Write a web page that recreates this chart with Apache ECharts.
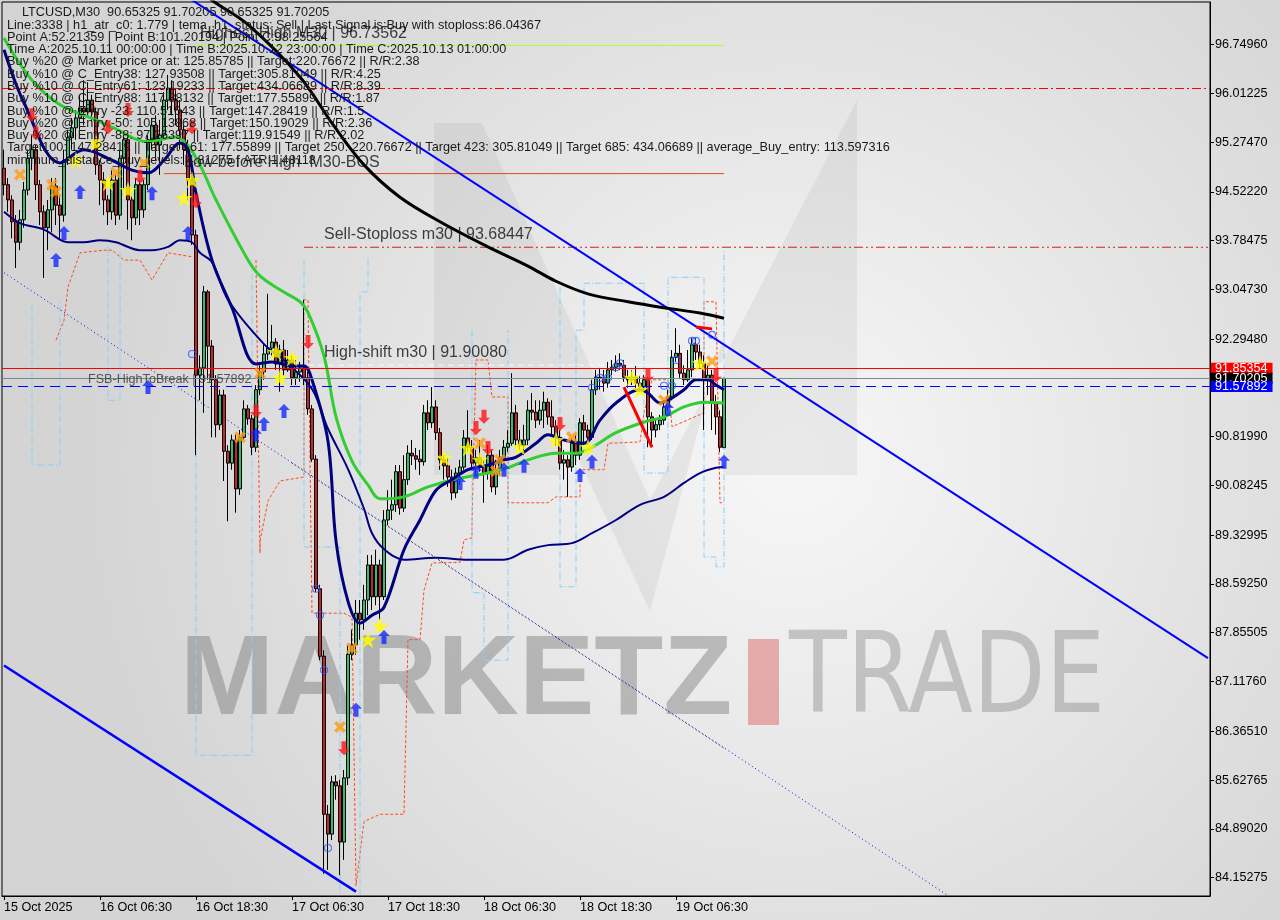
<!DOCTYPE html>
<html><head><meta charset="utf-8">
<script src="https://cdn.jsdelivr.net/npm/echarts@6/dist/echarts.min.js"></script>
<style>html,body{margin:0;padding:0;background:#e2e2e2}#c{width:1280px;height:920px}</style>
</head><body><div id="c"></div>
<script>
// ---------------- DATA ----------------
const barCount = 302;
const xTickIndex = [0, 24, 48, 72, 96, 120, 144, 168];
const xTickLabels = ['15 Oct 2025','16 Oct 06:30','16 Oct 18:30','17 Oct 06:30','17 Oct 18:30','18 Oct 06:30','18 Oct 18:30','19 Oct 06:30'];
const yTickValues = [96.74960,96.01225,95.27470,94.52220,93.78475,93.04730,92.29480,90.81990,90.08245,89.32995,88.59250,87.85505,87.11760,86.36510,85.62765,84.89020,84.15275];
const yMin = 83.874, yMax = 97.393;

// [open, close, low, high]
const candles = [
[94.88,94.63,94.47,95.16],[94.63,94.40,94.22,94.73],[94.40,94.07,93.82,94.47],[94.07,93.76,93.37,94.17],[93.76,94.10,93.64,94.25],
[94.10,94.55,93.98,94.67],[94.55,95.03,94.47,95.16],[95.03,95.16,94.85,95.38],[95.16,94.63,94.40,95.23],[94.63,94.22,94.02,94.70],
[94.22,93.98,93.22,94.32],[93.98,94.25,93.64,94.40],[94.25,94.61,93.91,94.73],[94.61,94.32,94.02,94.73],[94.32,94.17,93.79,94.47],
[94.17,95.00,94.07,95.16],[95.00,95.34,94.93,95.46],[95.34,95.49,95.16,95.64],[95.49,95.64,95.31,95.76],[95.64,95.79,95.46,95.99],
[95.79,95.73,95.53,96.21],[95.73,95.91,95.64,96.18],[95.91,95.73,95.58,95.99],[95.73,94.93,94.78,95.79],[94.93,94.70,94.32,95.00],
[94.70,94.40,94.17,94.82],[94.40,94.22,94.02,94.47],[94.22,94.70,94.10,94.85],[94.70,94.17,94.02,94.78],[94.17,95.03,94.10,95.16],
[95.03,95.31,94.55,95.43],[95.31,94.40,93.95,95.38],[94.40,94.13,93.79,94.47],[94.13,94.63,94.02,94.73],[94.63,94.25,94.02,94.70],
[94.25,94.63,94.13,94.70],[94.63,95.31,94.55,95.38],[95.31,95.53,95.16,95.64],[95.53,95.23,95.00,95.68],[95.23,95.38,94.78,95.61],
[95.38,95.91,95.31,96.03],[95.91,96.09,95.76,96.29],[96.09,95.91,95.68,96.21],[95.91,95.76,95.53,96.06],[95.76,95.46,95.16,95.91],
[95.46,95.16,94.93,95.53],[95.16,94.70,94.40,95.31],[94.70,93.87,93.72,94.85],[93.87,91.75,90.54,93.95],[91.75,91.86,91.37,92.05],
[91.86,93.01,91.18,93.10],[93.01,92.19,91.68,93.04],[92.19,91.68,90.81,92.28],[91.68,91.00,90.81,91.75],[91.00,91.45,90.92,91.53],
[91.45,90.60,90.15,91.53],[90.60,90.42,89.54,90.69],[90.42,90.77,90.32,90.85],[90.77,90.03,89.67,90.85],[90.03,90.81,89.94,90.92],
[90.81,91.24,90.77,91.37],[91.24,91.09,91.00,91.30],[91.09,90.66,90.54,91.15],[90.66,91.53,90.59,91.60],[91.53,91.80,91.45,91.90],
[91.80,92.07,91.68,92.21],[92.07,92.16,91.98,92.98],[92.16,92.25,92.05,92.51],[92.25,91.92,91.83,92.31],[91.92,92.13,91.50,92.21],
[92.13,91.83,91.75,92.28],[91.83,91.98,91.80,92.13],[91.98,91.71,91.60,92.05],[91.71,91.80,91.60,91.98],[91.80,91.86,91.65,91.95],
[91.86,91.71,91.60,92.89],[91.71,91.24,91.15,91.80],[91.24,90.48,90.44,91.30],[90.48,88.52,88.47,90.54],[88.52,87.50,87.44,88.58],
[87.50,85.11,84.21,87.59],[85.11,84.81,84.27,85.25],[84.81,85.60,84.72,85.69],[85.60,85.54,85.33,85.70],[85.54,84.69,84.19,85.63],
[84.69,85.66,84.42,85.78],[85.66,87.53,85.55,87.67],[87.53,87.67,87.44,87.90],[87.67,88.15,87.52,88.35],[88.15,88.05,87.75,88.35],
[88.05,88.35,87.90,88.58],[88.35,88.88,88.12,89.03],[88.88,88.40,88.20,89.03],[88.40,88.88,88.27,89.11],[88.88,88.40,88.05,88.96],
[88.40,89.56,88.35,89.71],[89.56,89.71,89.48,90.01],[89.71,89.79,89.56,90.17],[89.79,90.29,89.68,90.39],[90.29,89.74,89.64,90.39],
[89.74,90.17,89.68,90.54],[90.17,90.57,90.09,90.69],[90.57,90.53,90.39,90.77],[90.53,90.48,90.32,90.65],[90.48,90.44,90.24,90.62],
[90.44,91.18,90.38,91.30],[91.18,91.03,90.92,91.37],[91.03,91.27,90.95,91.57],[91.27,90.88,90.77,91.37],[90.88,90.47,90.32,90.95],
[90.47,90.38,90.17,90.54],[90.38,90.21,90.06,90.50],[90.21,89.97,89.86,90.32],[89.97,90.27,89.89,90.35],[90.27,90.36,90.09,90.47],
[90.36,90.80,90.32,90.92],[90.80,90.66,90.59,91.22],[90.66,90.42,90.32,90.77],[90.42,90.50,90.24,90.62],[90.50,90.36,90.29,90.77],
[90.36,90.27,89.82,90.47],[90.27,90.54,90.17,90.69],[90.54,90.06,89.98,90.62],[90.06,90.32,89.94,90.47],[90.32,90.51,90.24,90.62],
[90.51,90.66,90.44,90.77],[90.66,90.72,90.59,90.92],[90.72,91.18,90.68,91.78],[91.18,90.77,90.69,91.30],[90.77,90.69,90.62,90.92],
[90.69,90.77,90.54,91.00],[90.77,91.22,90.69,91.37],[91.22,91.19,91.07,91.48],[91.19,91.07,90.95,91.37],[91.07,91.22,91.00,91.37],
[91.22,91.34,90.95,91.50],[91.34,91.12,91.00,91.40],[91.12,90.97,90.85,91.37],[90.97,90.81,90.69,91.07],[90.81,90.42,90.32,90.92],
[90.42,90.47,90.17,90.62],[90.47,90.36,89.91,90.54],[90.36,90.72,90.29,90.80],[90.72,90.54,90.39,90.85],[90.54,91.03,90.47,91.10],
[91.03,90.92,90.69,91.15],[90.92,90.81,90.69,91.00],[90.81,91.53,90.77,91.68],[91.53,91.72,91.45,91.83],[91.72,91.71,91.53,91.86],
[91.71,91.63,91.50,91.83],[91.63,91.83,91.56,91.95],[91.83,91.87,91.75,91.98],[91.87,91.93,91.80,92.05],[91.93,91.90,91.83,92.08],
[91.90,91.72,91.65,91.98],[91.72,91.68,91.56,91.83],[91.68,91.72,91.60,91.83],[91.72,91.63,91.53,91.89],[91.63,91.57,91.50,91.74],
[91.57,91.68,91.50,91.75],[91.68,91.12,90.66,91.72],[91.12,90.92,90.66,91.19],[90.92,91.00,90.81,91.10],[91.00,91.07,90.92,91.15],
[91.07,91.27,91.00,91.37],[91.27,91.42,91.22,91.53],[91.42,92.02,91.37,92.13],[92.02,92.08,91.95,92.46],[92.08,91.78,91.71,92.21],
[91.78,91.68,91.60,91.90],[91.68,91.83,91.65,92.13],[91.83,92.21,91.72,92.31],[92.21,92.10,91.98,92.31],[92.10,91.93,91.86,92.21],
[91.93,91.68,90.92,92.05],[91.68,91.75,91.45,91.90],[91.75,91.33,90.92,91.83],[91.33,91.12,90.85,91.45],[91.12,90.66,90.59,91.22],
[90.65325,91.70205,90.65325,91.70205]
];

// moving averages: [bar, price]
const maBlack = [[50,97.55],[52,97.42],[61,97.05],[74,96.26],[82,95.56],[90,94.93],[99,94.44],[109,94.07],[121,93.69],[131,93.40],[138,93.17],[146,92.98],[156,92.86],[165,92.77],[174,92.69],[180,92.61]];
const maGreen = [[0,96.85],[7,96.21],[14,95.84],[23,95.61],[27,95.50],[36,95.28],[43,95.35],[46,95.22],[49,94.93],[53,94.40],[61,93.49],[64,93.25],[69,93.04],[74,92.86],[76,92.70],[80,92.04],[83,91.12],[87,90.45],[91,90.09],[94,89.88],[100,89.91],[106,90.06],[113,90.18],[121,90.27],[126,90.35],[131,90.47],[138,90.57],[143,90.57],[147,90.66],[153,90.88],[160,91.04],[165,91.12],[170,91.27],[175,91.34],[180,91.33]];
const maNavyFast = [[0,96.67],[5,95.87],[14,94.96],[20,95.16],[27,95.00],[32,94.85],[36,94.81],[40,95.00],[44,95.26],[46,95.16],[48,94.50],[52,93.49],[57,92.77],[63,91.92],[67,91.95],[72,91.89],[75,91.89],[77,91.68],[81,90.75],[83,89.24],[86,88.33],[89,88.00],[92,88.12],[95,88.24],[100,89.11],[104,89.56],[108,90.01],[112,90.17],[116,90.32],[121,90.39],[125,90.47],[128,90.51],[133,90.72],[136,90.85],[140,90.77],[145,90.72],[149,91.07],[153,91.33],[159,91.53],[161,91.48],[164,91.33],[166,91.37],[170,91.53],[173,91.68],[176,91.68],[178,91.60],[180,91.53]];
const maNavySlow = [[0,94.22],[4,94.05],[10,93.95],[16,93.76],[20,93.76],[24,93.79],[28,93.76],[34,93.64],[37,93.64],[41,93.69],[44,93.79],[47,93.76],[49,93.60],[52,93.46],[56,92.89],[65,92.22],[71,91.92],[77,91.54],[81,90.94],[86,90.33],[90,89.73],[92,89.36],[95,89.12],[100,88.96],[108,88.99],[116,88.96],[125,88.96],[131,89.11],[136,89.18],[142,89.21],[147,89.36],[153,89.56],[159,89.79],[165,89.91],[170,90.12],[174,90.27],[178,90.35],[180,90.36]];

// trend lines [bar, price]
const trendUpper = [[44,97.54],[301,87.47]];
const trendLower = [[0,87.36],[88,83.94]];
const trendDotBlue = [[0,93.30],[236,83.88]];
const trendDotBlack = [[72,90.42],[180,86.11]];
const redZig1 = [[155,91.57],[162,90.66]];
const redZig2 = [[173,92.48],[177,92.45]];

// step bands
const orangeBand1 = [[13,92.28],[15,92.58],[16,93.08],[19,93.60],[25,93.64],[27,93.64],[30,93.49],[34,93.49],[37,93.19],[41,93.60],[47,93.54]];
const orangeBand2 = [[63,93.49],[64,89.06],[64,89.24],[66,89.85],[69,90.15],[75,90.21],[75,92.89],[76,92.89],[77,88.15],[85,88.15],[87,88.09],[88,84.03],[90,85.00],[94,85.11],[100,85.11],[101,87.75],[104,87.75],[105,88.50],[107,88.91],[114,88.92],[115,89.26],[117,89.29],[117,89.51],[118,91.98],[121,91.98],[122,91.42],[126,91.42],[126,89.82],[136,89.82],[138,89.91],[144,89.91],[144,90.32],[150,90.32],[151,90.72],[159,90.74],[160,91.18],[162,91.68],[166,91.68],[167,90.97],[175,91.18],[175,92.86],[178,92.86],[179,89.82],[180,89.82]];
const blueBand1 = [[7,92.81],[7,90.39],[14,90.39],[14,92.89]];
const blueBand2 = [[26,93.69],[26,91.37],[29,91.37],[29,93.64]];
const blueBand3 = [[48,92.43],[48,86.00],[62,86.00],[62,93.49]];
const blueBand4 = [[75,93.49],[75,89.15],[84,89.15],[84,83.89]];
const blueBand5 = [[89,83.89],[89,93.01],[91,93.01],[91,93.57]];
const blueBand6 = [[117,92.43],[117,88.46],[120,88.46],[120,87.44],[126,87.44],[126,92.43]];
const blueBand7 = [[139,93.08],[139,88.55],[143,88.55],[143,92.43],[145,92.43],[145,93.14],[160,93.14],[160,90.27],[166,90.27],[166,93.23],[175,93.23],[175,89.00],[178,89.00],[178,88.85],[180,88.85],[180,93.64]];

// signals [bar, price]
const redDownArrows = [[7,95.68],[8,95.41],[26,95.50],[31,95.76],[34,94.75],[47,95.50],[48,94.38],[63,91.21],[76,92.25],[85,86.11],[118,90.95],[120,91.12],[121,90.65],[139,91.01],[161,91.74],[178,91.74]];
const blueUpArrows = [[13,93.49],[15,93.90],[19,94.52],[37,94.50],[46,93.90],[36,91.57],[63,90.85],[65,91.01],[70,91.21],[88,86.69],[95,87.79],[114,90.12],[118,90.29],[125,90.32],[130,90.38],[144,90.24],[147,90.44],[166,91.24],[180,90.44]];
const yellowStars = [[18,95.00],[23,95.26],[26,94.66],[31,94.55],[45,94.43],[47,94.70],[68,92.10],[72,92.01],[69,91.71],[91,87.75],[94,87.96],[110,90.50],[116,90.65],[119,90.47],[129,90.66],[138,90.77],[146,90.66],[157,91.71],[159,91.53],[174,91.93]];
const orangeCrosses = [[4,94.78],[12,94.63],[13,94.52],[28,94.81],[35,94.96],[59,90.81],[64,91.78],[84,86.43],[87,87.62],[119,90.72],[123,90.30],[124,90.47],[142,90.81],[165,91.37],[177,91.96]];
const blueCircles = [[47,92.07],[78,88.52],[79,88.12],[80,87.29],[81,84.60],[147,91.56],[149,91.71],[151,91.71],[153,91.87],[154,91.93],[165,91.59],[167,91.59],[168,91.98],[172,92.27],[173,92.27],[177,92.36]];

// levels
const levelHighestHigh = 96.73562, rangeHighestHigh = [48,180];
const levelRedDashDot = 96.0876;
const levelLowBeforeHigh = 94.798, rangeLowBeforeHigh = [40,180];
const levelSellStop = 93.68447, rangeSellStop = [75,301];
const levelHighShift = 91.90080, rangeHighShift = [76,180];
const levelRed = 91.85354, levelBid = 91.70205, levelBlue = 91.57892;

// annotation texts
const noteTexts = ['Highest High M30 | 96.73562','Low before High  M30-BOS','Sell-Stoploss m30 | 93.68447','High-shift m30 | 91.90080','FSB-HighToBreak | 91.57892'];
const noteBars = [49,45,80,80,21];
const notePrices = [96.92,94.96,93.87,92.085,91.69];
const noteSizes = [16,16,16,16,12.6];

const infoTitle = 'LTCUSD,M30  90.65325 91.70205 90.65325 91.70205';
const infoLines = [
'Line:3338 | h1_atr_c0: 1.779 | tema_h1_status: Sell | Last Signal is:Buy with stoploss:86.04367',
'Point A:52.21359 | Point B:101.20194 | Point C:98.25564',
'Time A:2025.10.11 00:00:00 | Time B:2025.10.12 23:00:00 | Time C:2025.10.13 01:00:00',
'Buy %20 @ Market price or at: 125.85785 || Target:220.76672 || R/R:2.38',
'Buy %10 @ C_Entry38: 127.93508 || Target:305.81049 || R/R:4.25',
'Buy %10 @ C_Entry61: 123.19233 || Target:434.06689 || R/R:8.39',
'Buy %10 @ C_Entry88: 117.88132 || Target:177.55899 || R/R:1.87',
'Buy %10 @ Entry -23: 110.51043 || Target:147.28419 || R/R:1.5',
'Buy %20 @ Entry -50: 105.13868 || Target:150.19029 || R/R:2.36',
'Buy %20 @ Entry -88: 97.26397 || Target:119.91549 || R/R:2.02',
'Target100: 147.28419 || Target 161: 177.55899 || Target 250: 220.76672 || Target 423: 305.81049 || Target 685: 434.06689 || average_Buy_entry: 113.597316',
'minimum_distance_buy_levels: 4.81275 | ATR:1.48118'
];

// ---------------- CHART ----------------
const FONT = '"Liberation Sans", Arial, sans-serif';
const cats = Array.from({length: barCount}, (_, i) => String(i));
const tickMap = {};
xTickIndex.forEach((k, j) => { tickMap[k] = xTickLabels[j]; });
const isTick = (i) => Object.prototype.hasOwnProperty.call(tickMap, i);

function lineSeries(data, color, width, type, z, smooth) {
  return { type: 'line', data: data, symbol: 'none', showSymbol: false, smooth: smooth || false,
    lineStyle: { color: color, width: width, type: type || 'solid' }, z: z || 3, silent: true, animation: false };
}
function markerSeries(data, symbol, size, color, z, extra) {
  return Object.assign({ type: 'scatter', data: data, symbol: symbol, symbolSize: size,
    itemStyle: { color: color }, z: z || 6, silent: true, animation: false }, extra || {});
}
const P_UP = 'path://M6,0 L12,6 L8.5,6 L8.5,14 L3.5,14 L3.5,6 L0,6 Z';
const P_DOWN = 'path://M3.5,0 L8.5,0 L8.5,8 L12,8 L6,14 L0,8 L3.5,8 Z';
const P_STAR = 'path://M50,0 L61.8,34.5 L97.6,34.5 L68.8,55.9 L79.4,90.5 L50,69.1 L20.6,90.5 L31.2,55.9 L2.4,34.5 L38.2,34.5 Z';
const P_X = 'path://M0,2.5 L2.5,0 L6,3.5 L9.5,0 L12,2.5 L8.5,6 L12,9.5 L9.5,12 L6,8.5 L2.5,12 L0,9.5 L3.5,6 Z';

const priceBox = (bg, fg) => ({ show: true, position: 'end', distance: 1, backgroundColor: bg, color: fg,
  fontFamily: FONT, fontSize: 12.6, lineHeight: 11, padding: [0, 5, 0, 4] });

const series = [];
// step bands (behind)
[orangeBand1, orangeBand2].forEach(b => series.push(lineSeries(b, '#ff4a1a', 1, [3, 2], 2)));
[blueBand1, blueBand2, blueBand3, blueBand4, blueBand5, blueBand6, blueBand7].forEach(b => series.push(lineSeries(b, '#87cefa', 1, [6, 2, 1, 2], 2)));

// candles
series.push({
  type: 'candlestick', data: candles, barWidth: 3, z: 3, silent: true, animation: false,
  itemStyle: { color: '#2fbf71', color0: '#c0262c', borderColor: '#000', borderColor0: '#000', borderWidth: 1 },
  markLine: {
    silent: true, symbol: ['none', 'none'], animation: false, precision: 5,
    data: [
      { yAxis: levelRedDashDot, lineStyle: { color: '#ff0000', width: 1, type: [9, 3, 2, 3] }, label: { show: false } },
      { yAxis: levelRed, lineStyle: { color: '#ff0000', width: 1, type: 'solid' }, label: Object.assign(priceBox('#ff0000', '#fff'), { formatter: levelRed.toFixed(5) }) },
      { yAxis: levelBid, lineStyle: { color: '#778899', width: 1, type: 'solid' }, label: Object.assign(priceBox('#000000', '#fff'), { formatter: levelBid.toFixed(5) }) },
      { yAxis: levelBlue, lineStyle: { color: '#0000ff', width: 1, type: [10, 6] }, label: Object.assign(priceBox('#0000ff', '#fff'), { formatter: levelBlue.toFixed(5) }) }
    ]
  }
});

// partial level lines
series.push(lineSeries([[rangeHighestHigh[0], levelHighestHigh], [rangeHighestHigh[1], levelHighestHigh]], '#adff2f', 1, 'solid', 3));
series.push(lineSeries([[rangeLowBeforeHigh[0], levelLowBeforeHigh], [rangeLowBeforeHigh[1], levelLowBeforeHigh]], '#e2481c', 1, 'solid', 3));
series.push(lineSeries([[rangeSellStop[0], levelSellStop], [rangeSellStop[1], levelSellStop]], '#d02020', 1, [9, 3, 2, 3, 2, 3], 3));
series.push(lineSeries([[rangeHighShift[0], levelHighShift], [rangeHighShift[1], levelHighShift]], '#f8f8f8', 1, [6, 4], 3));

// trend lines
series.push(lineSeries(trendDotBlue, '#0000ff', 1, [1, 3], 3));
series.push(lineSeries(trendDotBlack, '#222', 1, [1, 3], 3));
series.push(lineSeries(trendUpper, '#0000ff', 2, 'solid', 4));
series.push(lineSeries(trendLower, '#0000ff', 2.5, 'solid', 4));

// moving averages
series.push(lineSeries(maNavySlow, '#000080', 2, 'solid', 4, 0.35));
series.push(lineSeries(maGreen, '#32cd32', 3, 'solid', 4, 0.35));
series.push(lineSeries(maNavyFast, '#000080', 3, 'solid', 4, 0.35));
series.push(lineSeries(maBlack, '#000000', 3, 'solid', 4, 0.35));
series.push(lineSeries(redZig1, '#ff0000', 3, 'solid', 5));
series.push(lineSeries(redZig2, '#ff0000', 3, 'solid', 5));

// markers
series.push(markerSeries(blueCircles, 'circle', 7, '#2a5cff', 6, { itemStyle: { color: 'rgba(0,0,0,0)', borderColor: '#2a5cff', borderWidth: 1.2 } }));
series.push(markerSeries(orangeCrosses, P_X, 12, '#ff9a10', 6));
series.push(markerSeries(yellowStars, P_STAR, 17, '#ffff00', 7));
series.push(markerSeries(blueUpArrows, P_UP, [12, 14], '#1428ff', 7));
series.push(markerSeries(redDownArrows, P_DOWN, [12, 14], '#ff1414', 7));

// annotation texts
series.push({
  type: 'scatter', symbolSize: 0, silent: true, animation: false, z: 8,
  data: noteTexts.map((t, i) => ({ value: [noteBars[i], notePrices[i]], name: t,
    label: { show: true, position: 'right', distance: 0, formatter: '{b}', color: i === 4 ? '#333' : '#111',
      fontFamily: FONT, fontSize: noteSizes[i] } }))
});

const option = {
  animation: false,
  backgroundColor: { type: 'radial', x: 0.62, y: 0.5, r: 0.78,
    colorStops: [{ offset: 0, color: '#f7f7f7' }, { offset: 1, color: '#d4d4d4' }] },
  textStyle: { fontFamily: FONT },
  grid: { left: 2, right: 70, top: 2, bottom: 24, show: true, borderColor: '#000', borderWidth: 1, backgroundColor: 'transparent' },
  xAxis: {
    type: 'category', data: cats, boundaryGap: true,
    axisLine: { show: true, lineStyle: { color: '#000' } },
    axisTick: { show: true, alignWithLabel: true, interval: (i) => isTick(i), length: 4, lineStyle: { color: '#000' } },
    axisLabel: { show: true, interval: (i) => isTick(i), formatter: (v, i) => tickMap[i] || '', align: 'left',
      color: '#000', fontFamily: FONT, fontSize: 12.6, margin: 5 },
    splitLine: { show: false }
  },
  yAxis: {
    type: 'value', position: 'right', min: yMin, max: yMax, scale: true,
    axisLine: { show: true, lineStyle: { color: '#000' } },
    axisTick: { show: true, customValues: yTickValues, length: 4, lineStyle: { color: '#000' } },
    axisLabel: { show: true, customValues: yTickValues, formatter: (v) => Number(v).toFixed(5),
      color: '#000', fontFamily: FONT, fontSize: 12.6, margin: 5 },
    splitLine: { show: false }
  },
  graphic: [
    { type: 'polygon', z: 0, silent: true,
      shape: { points: [[434,123],[482,123],[650,500],[857,100],[857,475],[725,475],[725,330],[650,611],[560,420],[560,475],[434,475]] },
      style: { fill: 'rgba(0,0,0,0.05)' } },
    { type: 'text', z: 0, silent: true, x: 180, y: 683,
      style: { text: 'MARKETZ', font: 'bold 113px "Liberation Sans", Arial, sans-serif', fill: 'rgba(95,95,95,0.36)', verticalAlign: 'middle' } },
    { type: 'rect', z: 0, silent: true, shape: { x: 748, y: 639, width: 31, height: 86 }, style: { fill: 'rgba(215,60,60,0.38)' } },
    { type: 'text', z: 0, silent: true, x: 789, y: 683, scaleX: 0.93,
      style: { text: 'TRADE', font: '113px "Liberation Sans Narrow", "DejaVu Sans Condensed", sans-serif', fill: 'rgba(110,110,110,0.34)', verticalAlign: 'middle' } },
    { type: 'text', z: 9, silent: true, x: 22, y: 6,
      style: { text: infoTitle, font: '12.7px "Liberation Sans", Arial, sans-serif', fill: '#1a1a1a' } },
    { type: 'text', z: 9, silent: true, x: 7, y: 19,
      style: { text: infoLines.join('\n'), font: '12.7px "Liberation Sans", Arial, sans-serif', lineHeight: 12.27, fill: '#1a1a1a' } }
  ],
  series: series
};

const chart = echarts.init(document.getElementById('c'), null, { renderer: 'canvas', width: 1280, height: 920 });
chart.setOption(option);
</script>
</body></html>
